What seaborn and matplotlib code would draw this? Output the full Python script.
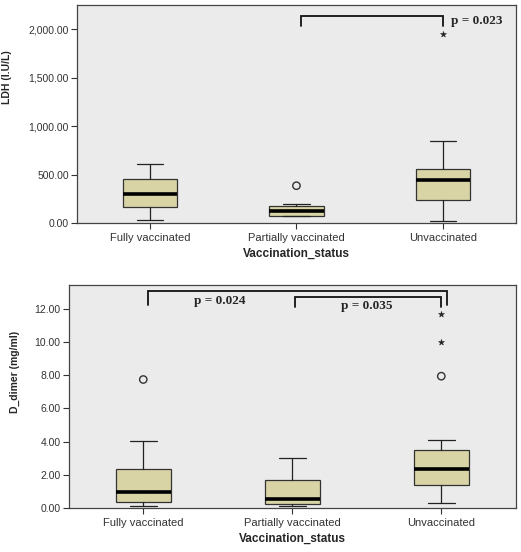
import matplotlib
matplotlib.use("Agg")
import matplotlib.pyplot as plt
import seaborn as sns
from matplotlib.ticker import FuncFormatter

# Categories and box statistics
groups = ["Fully vaccinated", "Partially vaccinated", "Unvaccinated"]

ldh_low = [30, 68, 20]
ldh_q1 = [168, 75, 237]
ldh_med = [303, 122, 443]
ldh_q3 = [453, 178, 553]
ldh_high = [612, 199, 848]
ldh_circles = [[], [385], []]
ldh_stars = [[], [], [1955]]

dd_low = [0.14, 0.14, 0.30]
dd_q1 = [0.36, 0.26, 1.35]
dd_med = [0.94, 0.54, 2.37]
dd_q3 = [2.35, 1.65, 3.50]
dd_high = [4.02, 3.02, 4.08]
dd_circles = [[7.74], [], [7.94]]
dd_stars = [[], [], [9.99, 11.7]]

BOX_FILL = "#d9d4a6"
BG = "#ebebeb"

sns.set_style("ticks", {"axes.facecolor": BG, "axes.edgecolor": "#444444"})
plt.rcParams["font.family"] = ["Liberation Sans", "DejaVu Sans"]


def make_stats(low, q1, med, q3, high):
    return [dict(whislo=a, q1=b, med=c, q3=d, whishi=e, label=g)
            for a, b, c, d, e, g in zip(low, q1, med, q3, high, groups)]


def draw_panel(ax, stats, circles, stars, ylabel, ylim, yticks, label_y, label_x):
    ax.bxp(stats, positions=[0, 1, 2], widths=0.37, capwidths=0.18,
           patch_artist=True, showfliers=False,
           boxprops=dict(facecolor=BOX_FILL, edgecolor="#333333", linewidth=0.9),
           medianprops=dict(color="black", linewidth=2.6),
           whiskerprops=dict(color="#222222", linewidth=0.9),
           capprops=dict(color="#222222", linewidth=0.9))
    for i in range(3):
        if circles[i]:
            sns.scatterplot(x=[i] * len(circles[i]), y=circles[i], ax=ax, marker="o",
                            s=28, facecolor="none", edgecolor="#333333", linewidth=1.0)
        if stars[i]:
            sns.scatterplot(x=[i] * len(stars[i]), y=stars[i], ax=ax, marker="*",
                            s=20, color="#222222", edgecolor="#222222")
    ax.set_xlim(-0.5, 2.5)
    ax.set_ylim(*ylim)
    ax.set_yticks(yticks)
    ax.yaxis.set_major_formatter(FuncFormatter(lambda v, p: f"{v:,.2f}"))
    ax.set_xticks([0, 1, 2])
    ax.set_xticklabels(groups)
    ax.tick_params(axis="y", labelsize=7.5, length=4, width=0.8, colors="#333333", pad=2)
    ax.tick_params(axis="x", labelsize=8, length=4, width=0.8, colors="#333333", pad=3)
    ax.set_xlabel("Vaccination_status", fontsize=8.5, fontweight="bold", labelpad=4)
    ax.set_ylabel(ylabel, fontsize=7.5, fontweight="bold")
    ax.yaxis.set_label_coords(label_x, label_y)
    for s in ax.spines.values():
        s.set_visible(True)
        s.set_linewidth(0.9)


def bracket(ax, x1, x2, top, left_leg, right_leg):
    ax.plot([x1, x1, x2, x2], [left_leg, top, top, right_leg],
            color="#111111", linewidth=1.3, solid_joinstyle="miter")


fig = plt.figure(figsize=(5.21, 5.52), dpi=100)
ax1 = fig.add_axes([0.148, 0.596, 0.842, 0.395])
ax2 = fig.add_axes([0.132, 0.080, 0.858, 0.404])

draw_panel(ax1, make_stats(ldh_low, ldh_q1, ldh_med, ldh_q3, ldh_high),
           ldh_circles, ldh_stars, "LDH (I.U/L)", (0, 2250),
           [0, 500, 1000, 1500, 2000], 0.67, -0.148)
draw_panel(ax2, make_stats(dd_low, dd_q1, dd_med, dd_q3, dd_high),
           dd_circles, dd_stars, "D_dimer (mg/ml)", (0, 13.45),
           [0, 2, 4, 6, 8, 10, 12], 0.61, -0.11)

serif = ["Liberation Serif", "DejaVu Serif"]

bracket(ax1, 1.03, 2.0, 2134, 2030, 2030)
ax1.text(2.06, 2082, "p = 0.023", fontsize=9.5, fontweight="bold",
         family=serif, ha="left", va="center")

bracket(ax2, 0.03, 2.04, 13.1, 12.26, 12.26)
bracket(ax2, 1.02, 2.0, 12.7, 12.1, 12.1)
ax2.text(0.51, 12.5, "p = 0.024", fontsize=9.5, fontweight="bold",
         family=serif, ha="center", va="center")
ax2.text(1.5, 12.15, "p = 0.035", fontsize=9.5, fontweight="bold",
         family=serif, ha="center", va="center")

fig.savefig("out.png", dpi=100, facecolor="white")
